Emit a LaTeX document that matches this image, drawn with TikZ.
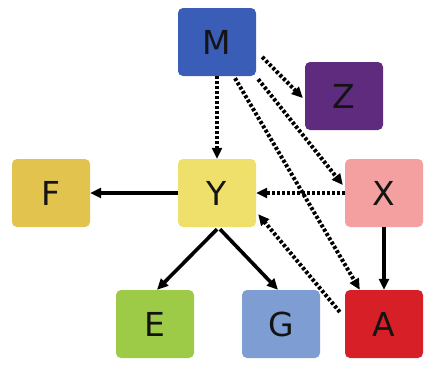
\documentclass[tikz,border=0pt]{standalone}
\usepackage{fontspec}
\setmainfont{DejaVu Sans}
\usetikzlibrary{arrows.meta,calc}
\definecolor{cM}{HTML}{3A5DB7}
\definecolor{cZ}{HTML}{5E2B7E}
\definecolor{cF}{HTML}{E2C34D}
\definecolor{cY}{HTML}{EEE06A}
\definecolor{cX}{HTML}{F5A0A0}
\definecolor{cE}{HTML}{9DCB47}
\definecolor{cG}{HTML}{7D9DD3}
\definecolor{cA}{HTML}{D71F27}
\begin{document}
\begin{tikzpicture}[x=1pt,y=-1pt,
  box/.style={minimum width=78pt,minimum height=68pt,rounded corners=5pt,
    inner sep=0pt,font=\fontsize{33}{33}\selectfont,text=black!92},
  solidarr/.style={line width=3.6pt,-{Triangle[length=11pt,width=10pt]}},
  dotarr/.style={line width=4pt,dash pattern=on 3pt off 2pt,
    -{Triangle[length=11pt,width=10pt]}}]
\useasboundingbox (0,0) rectangle (436,368);
% boxes
\node[box,fill=cM] (M) at (217,42) {M};
\node[box,fill=cZ] (Z) at (344,96) {Z};
\node[box,fill=cF] (F) at (51,193) {F};
\node[box,fill=cY] (Y) at (217,193) {Y};
\node[box,fill=cX] (X) at (384,193) {X};
\node[box,fill=cE] (E) at (155,324) {E};
\node[box,fill=cG] (G) at (281,324) {G};
\node[box,fill=cA] (A) at (384,324) {A};
% dotted influences
\draw[dotarr] (M.south) -- (Y.north);
\draw[dotarr] ($(M.east)+(6,15)$) -- ($(Z.west)+(-2,2)$);
\draw[dotarr] ($(M.south east)+(2,3)$) -- ($(X.west)+(-2,-8)$);
\draw[dotarr] ($(M.south)+(18,2)$) -- ($(A.north west)+(15,0)$);
\draw[dotarr] (X.west) -- (Y.east);
\draw[dotarr] ($(A.west)+(-5,-12)$) -- ($(Y.south east)+(2,-13)$);
% solid influences
\draw[solidarr] (X.south) -- (A.north);
\draw[solidarr] (Y.west) -- (F.east);
\draw[solidarr] ($(Y.south)+(0,2)$) -- ($(E.north)+(2,0)$);
\draw[solidarr] ($(Y.south)+(3,2)$) -- ($(G.north)+(-3,0)$);
\end{tikzpicture}
\end{document}
